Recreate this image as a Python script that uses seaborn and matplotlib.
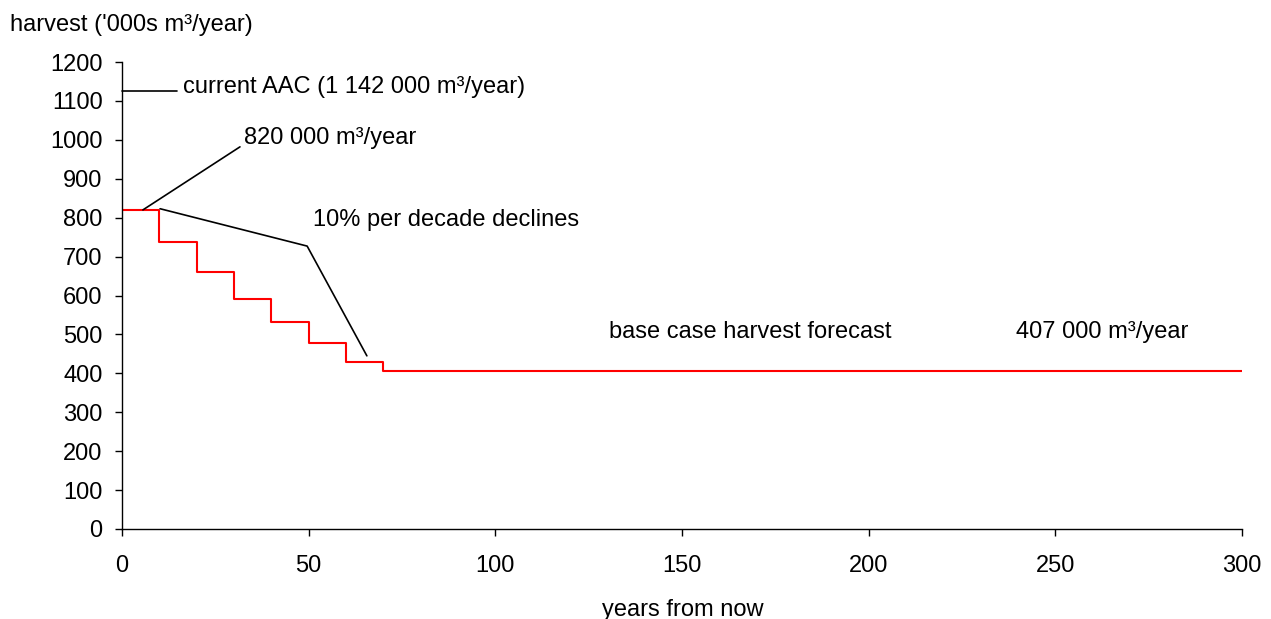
import pandas as pd
import matplotlib
matplotlib.use("Agg")
import matplotlib.pyplot as plt
import seaborn as sns

# harvest forecast (thousands m3/year) by years from now, stepped each decade
years = [0, 10, 20, 30, 40, 50, 60, 70, 300]
harvest = [820, 738, 660, 592, 532, 478, 428, 407, 407]

x_ticks = [0, 50, 100, 150, 200, 250, 300]
y_ticks = list(range(0, 1300, 100))

# annotation leader lines, in data coordinates
aac_line_x = [0, 14.7]
aac_line_y = [1126, 1126]
lead820_x = [5.6, 31.6]
lead820_y = [820, 982]
decline_x = [10.2, 49.6, 65.6]
decline_y = [823, 727, 445]

sns.set_style("ticks")
plt.rcParams['font.family'] = ['Liberation Sans', 'DejaVu Sans']
plt.rcParams['text.color'] = 'black'

df = pd.DataFrame({'years': years, 'harvest': harvest})

fig = plt.figure(figsize=(12.71, 6.19), dpi=100)
ax = fig.add_axes([0.096, 0.1454, 0.881, 0.7544])

sns.lineplot(data=df, x='years', y='harvest', ax=ax, color='#ff0000',
             linewidth=1.5, drawstyle='steps-post', estimator=None)

ax.plot(aac_line_x, aac_line_y, color='black', linewidth=1.2, clip_on=False)
ax.plot(lead820_x, lead820_y, color='black', linewidth=1.2)
ax.plot(decline_x, decline_y, color='black', linewidth=1.2)

fs = 17
ax.text(16.3, 1136, 'current AAC (1 142 000 m³/year)', fontsize=fs, va='center', color='black')
ax.text(32.7, 1005, '820 000 m³/year', fontsize=fs, va='center', color='black')
ax.text(51.2, 794, '10% per decade declines', fontsize=fs, va='center', color='black')
ax.text(130.5, 506, 'base case harvest forecast', fontsize=fs, va='center', color='black')
ax.text(239.5, 506, '407 000 m³/year', fontsize=fs, va='center', color='black')

ax.set_xlim(0, 300)
ax.set_ylim(0, 1200)
ax.set_xticks(x_ticks)
ax.set_yticks(y_ticks)
ax.tick_params(axis='both', labelsize=fs, direction='out', length=5, width=1,
               colors='black', labelcolor='black')
ax.tick_params(axis='x', pad=14)
ax.tick_params(axis='y', pad=9)
ax.set_xlabel('')
ax.set_ylabel('')
sns.despine(ax=ax)
for s in ['left', 'bottom']:
    ax.spines[s].set_color('black')
    ax.spines[s].set_linewidth(1)

fig.text(0.537, 1 - 610 / 619, 'years from now', fontsize=fs, ha='center', va='center', color='black')
fig.text(10 / 1271, 1 - 25 / 619, "harvest ('000s m³/year)", fontsize=fs, ha='left', va='center', color='black')

fig.savefig('out.png', dpi=100)
